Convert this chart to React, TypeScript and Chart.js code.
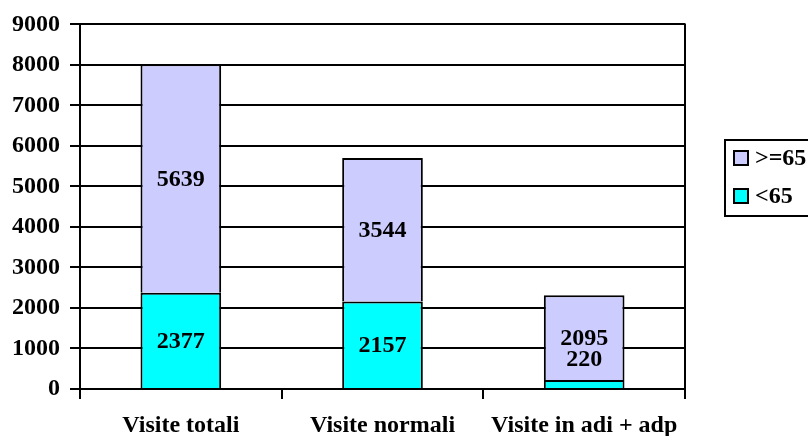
import React, { useEffect, useRef } from "react";
import { Chart, registerables } from "chart.js";

Chart.register(...registerables);

const categories = ["Visite totali", "Visite normali", "Visite in adi + adp"];
const under65 = [2377, 2157, 220];
const over65 = [5639, 3544, 2095];
const seriesNames = [">=65", "<65"];
const yTicks = { min: 0, max: 9000, step: 1000 };

const FONT = "'Liberation Serif', 'Times New Roman', serif";
const FS = 24;

const labelPlugin = {
  id: "segLabels",
  afterDatasetsDraw(chart: any) {
    const ctx = chart.ctx;
    ctx.save();
    ctx.font = `bold ${FS}px ${FONT}`;
    ctx.fillStyle = "#000";
    ctx.textAlign = "center";
    ctx.textBaseline = "middle";
    chart.data.datasets.forEach((ds: any, di: number) => {
      const meta = chart.getDatasetMeta(di);
      meta.data.forEach((el: any, i: number) => {
        const top = el.y;
        const base = el.base;
        let cy = (top + base) / 2;
        if (Math.abs(base - top) < 28) cy = top - 21;
        ctx.fillText(String(ds.data[i]), el.x, cy + 1);
      });
    });
    ctx.restore();
  },
  afterDraw(chart: any) {
    const ctx = chart.ctx;
    const a = chart.chartArea;
    ctx.save();
    ctx.strokeStyle = "#000";
    ctx.lineWidth = 2;
    ctx.beginPath();
    ctx.moveTo(a.right, a.top - 1);
    ctx.lineTo(a.right, a.bottom);
    ctx.stroke();
    // legend
    ctx.beginPath();
    ctx.rect(725, 140, 100, 76);
    ctx.stroke();
    const items = [
      { name: seriesNames[0], color: "#CCCCFF", y: 158 },
      { name: seriesNames[1], color: "#00FFFF", y: 196 },
    ];
    ctx.font = `bold ${FS}px ${FONT}`;
    ctx.textBaseline = "middle";
    ctx.textAlign = "left";
    items.forEach((it) => {
      ctx.fillStyle = it.color;
      ctx.fillRect(734, it.y - 7, 14, 14);
      ctx.lineWidth = 2;
      ctx.strokeRect(734, it.y - 7, 14, 14);
      ctx.fillStyle = "#000";
      ctx.fillText(it.name, 755, it.y + 1);
    });
    ctx.restore();
  },
};

export default function App() {
  const ref = useRef<HTMLCanvasElement>(null);
  useEffect(() => {
    if (!ref.current) return;
    const chart = new Chart(ref.current, {
      type: "bar",
      data: {
        labels: categories,
        datasets: [
          {
            label: seriesNames[1],
            data: under65,
            backgroundColor: "#00FFFF",
            borderColor: "#000",
            borderWidth: 2,
            borderSkipped: "start",
          },
          {
            label: seriesNames[0],
            data: over65,
            backgroundColor: "#CCCCFF",
            borderColor: "#000",
            borderWidth: 2,
            borderSkipped: "start",
          },
        ],
      },
      options: {
        responsive: false,
        animation: false,
        devicePixelRatio: 1,
        layout: { padding: { left: 0, right: 123, top: 24, bottom: 0 } },
        datasets: { bar: { barPercentage: 0.4, categoryPercentage: 1 } },
        plugins: { legend: { display: false }, tooltip: { enabled: false } },
        scales: {
          x: {
            stacked: true,
            grid: {
              display: true,
              drawOnChartArea: false,
              drawTicks: true,
              tickLength: 10,
              color: "#000",
              lineWidth: 2,
            },
            border: { display: true, color: "#000", width: 2 },
            ticks: {
              color: "#000",
              font: { family: FONT, size: FS, weight: "bold" },
              padding: 12,
              maxRotation: 0,
              autoSkip: false,
            },
            afterFit(scale: any) {
              scale.height = 47;
            },
          },
          y: {
            stacked: true,
            min: yTicks.min,
            max: yTicks.max,
            grid: { color: "#000", lineWidth: 2, tickLength: 10, drawTicks: true },
            border: { display: true, color: "#000", width: 2 },
            ticks: {
              stepSize: yTicks.step,
              color: "#000",
              font: { family: FONT, size: FS, weight: "bold" },
              padding: 10,
              callback: (v: any) => String(v),
            },
            afterFit(scale: any) {
              scale.width = 80;
            },
          },
        },
      },
      plugins: [labelPlugin],
    } as any);
    return () => chart.destroy();
  }, []);
  return (
    <canvas
      ref={ref}
      width={808}
      height={436}
      style={{ position: "absolute", left: 0, top: 0, width: 808, height: 436 }}
    />
  );
}
